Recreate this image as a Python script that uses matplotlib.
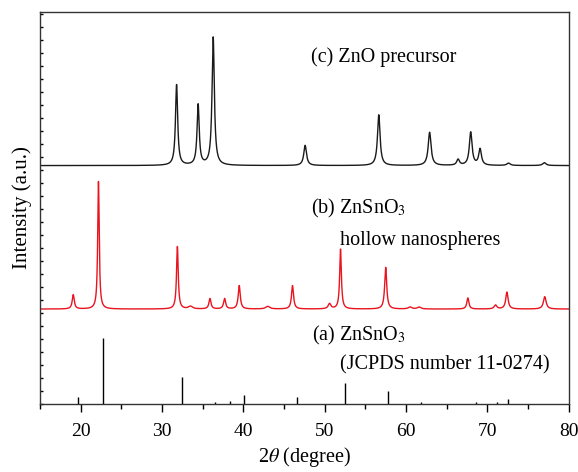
import numpy as np
import matplotlib
matplotlib.use("Agg")
import matplotlib.pyplot as plt

plt.rcParams['font.family'] = ['Liberation Serif', 'DejaVu Serif']
plt.rcParams['mathtext.fontset'] = 'stix'

# (c) ZnO precursor peaks: 2theta, height, fwhm
zno_pos = [31.8, 34.45, 36.3, 47.6, 56.65, 62.9, 66.4, 67.95, 69.1, 72.6, 77.0]
zno_height = [6.2, 4.65, 9.85, 1.55, 3.9, 2.55, 0.45, 2.55, 1.25, 0.18, 0.22]
zno_fwhm = [0.32, 0.32, 0.34, 0.4, 0.38, 0.42, 0.4, 0.4, 0.4, 0.5, 0.5]
zno_base = 18.33

# (b) ZnSnO3 hollow nanospheres peaks
zsn_pos = [19.1, 22.2, 31.9, 33.5, 35.9, 37.7, 39.5, 43.0, 46.05, 50.6, 51.95,
           57.5, 60.5, 61.6, 67.6, 71.0, 72.4, 77.05]
zsn_height = [1.1, 9.8, 4.8, 0.2, 0.8, 0.8, 1.8, 0.2, 1.8, 0.4, 4.6,
              3.2, 0.15, 0.15, 0.85, 0.3, 1.3, 0.95]
zsn_fwhm = [0.3, 0.22, 0.25, 0.6, 0.3, 0.3, 0.3, 0.6, 0.3, 0.4, 0.25,
            0.3, 0.5, 0.5, 0.3, 0.4, 0.35, 0.4]
zsn_base = 7.3

# (a) JCPDS 11-0274 reference lines
jcpds_pos = [19.65, 22.8, 32.45, 36.55, 38.35, 40.1, 46.65, 52.45, 57.75, 61.8, 68.6, 71.2, 72.5]
jcpds_height = [0.55, 5.1, 2.1, 0.15, 0.2, 0.7, 0.55, 1.6, 1.0, 0.12, 0.12, 0.15, 0.4]

x = np.linspace(15, 80, 6501)

def profile(pos, height, fwhm):
    y = np.zeros_like(x)
    for p, h, w in zip(pos, height, fwhm):
        g = (w / 2) ** 2
        y += h * g / ((x - p) ** 2 + g)
    return y

fig = plt.figure(figsize=(5.78, 4.72), dpi=100)
ax = fig.add_axes([0.069, 0.144, 0.915, 0.831])

ax.plot(x, zno_base + profile(zno_pos, zno_height, zno_fwhm), color='#1a1a1a', lw=1.0)
ax.plot(x, zsn_base + profile(zsn_pos, zsn_height, zsn_fwhm), color='#e8141e', lw=1.0)
ax.vlines(jcpds_pos, 0, jcpds_height, color='black', lw=1.0)

ax.set_xlim(15, 80)
ax.set_ylim(0, 30.15)
ax.set_xticks(np.arange(20, 81, 10))
ax.set_xticks(np.arange(15, 81, 5), minor=True)
ax.set_yticks(np.arange(0, 31, 1))
ax.set_yticklabels([])
ax.tick_params(axis='x', which='major', direction='out', length=6, width=1, labelsize=14, pad=8)
ax.tick_params(axis='x', which='minor', direction='out', length=3.5, width=1)
ax.tick_params(axis='y', which='major', direction='in', length=2, width=1)
for s in ax.spines.values():
    s.set_linewidth(1.0)
    s.set_color('#333333')

ax.set_xlabel('2$\\theta$ (degree)', fontsize=14.5, labelpad=3)
ax.set_ylabel('Intensity (a.u.)', fontsize=15, labelpad=2)

fs = 14.5
ax.text(48.3, 26.65, '(c) ZnO precursor', fontsize=fs, va='center')
ax.text(48.3, 15.0, '(b) ZnSnO$_3$', fontsize=fs, va='center')
ax.text(51.9, 12.6, 'hollow nanospheres', fontsize=fs, va='center')
ax.text(48.4, 5.3, '(a) ZnSnO$_3$', fontsize=fs, va='center')
ax.text(51.9, 3.0, '(JCPDS number 11-0274)', fontsize=fs, va='center')

fig.savefig('out.png', dpi=100)
